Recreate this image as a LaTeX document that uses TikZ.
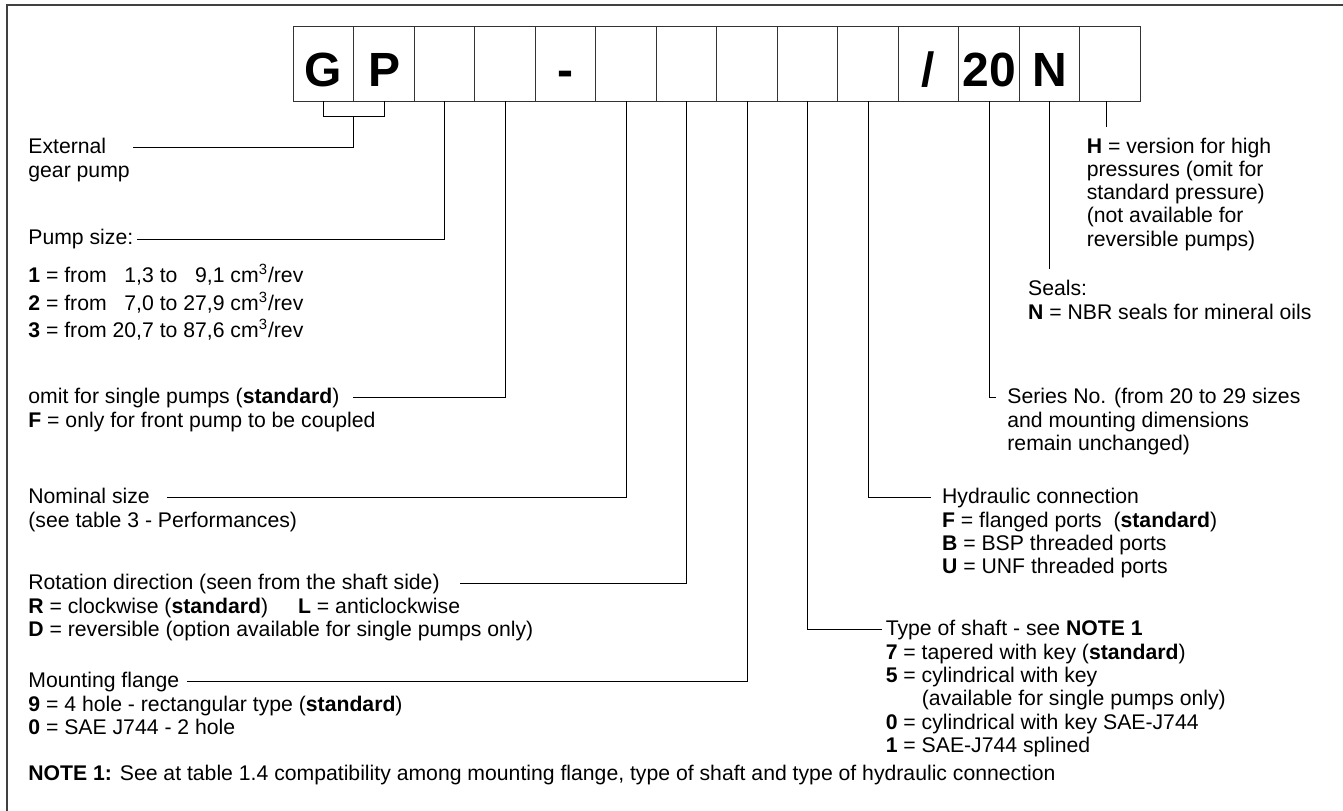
\documentclass[tikz,border=0pt]{standalone}
\usepackage{fontspec}
\setmainfont{Liberation Sans}
\usetikzlibrary{calc,positioning}
\newcommand\lblfont{\fontsize{10.6}{11.65}\selectfont}
\newcommand\keyfont{\fontsize{24}{28}\selectfont\bfseries}

\begin{document}
\begin{tikzpicture}[x=0.5pt, y=-0.5pt,
		cell/.style={draw=black!80, line width=0.5pt, outer sep=0pt, inner sep=0pt, minimum width=30.25pt, minimum height=37.15pt, text height=22.15pt, text depth=0pt, font=\keyfont},
		lbl/.style={font=\lblfont, inner sep=0pt, anchor=north west},
		lst/.style={lbl, align=left},
		lead/.style={line width=0.5pt, color=black}]
			%%%%% START %%%%%
			
			\useasboundingbox (0, 0) rectangle (1343, 810);
			\draw[line width=1.2pt, color=black!75] (7, 815) -- (7, 5) -- (1350, 5);
			
			% code boxes
			\node[cell, anchor=north west] (b1) at (293.3, 26.7) {G};
			\foreach \t [count=\j] in {P,{},{},-,{},{},{},{},{},/,20,N,{}}{
				\pgfmathtruncatemacro\i{\j+1}
				\node[cell, right=0pt of b\j] (b\i) {\t};
			}
			
			% left labels
			\node[lbl] (ext) at (28, 136.3) {\strut External};
			\node[lst, below=0pt of ext.south west, anchor=north west] (extb) {\strut gear pump};
			
			\node[lbl] (pump) at (28, 228) {\strut Pump size:};
			\node[lst, below=6pt of pump.south west, anchor=north west] (pumpl) {\strut\textbf{1} = from \hphantom{0}1,3 to \hphantom{0}9,1 cm\textsuperscript{3}/rev\\
				\strut\textbf{2} = from \hphantom{0}7,0 to 27,9 cm\textsuperscript{3}/rev\\
				\strut\textbf{3} = from 20,7 to 87,6 cm\textsuperscript{3}/rev};
			
			\node[lbl] (omit) at (28, 386.3) {\strut omit for single pumps (\textbf{standard})};
			\node[lst, below=0pt of omit.south west, anchor=north west] (omitl) {\strut\textbf{F} = only for front pump to be coupled};
			
			\node[lbl] (nom) at (28, 486.3) {\strut Nominal size};
			\node[lst, below=0pt of nom.south west, anchor=north west] (noml) {\strut(see table 3 - Performances)};
			
			\node[lbl] (rot) at (28, 572.3) {\strut Rotation direction (seen from the shaft side)};
			\node[lst, below=0pt of rot.south west, anchor=north west] (rotl) {\strut\textbf{R} = clockwise (\textbf{standard})\hspace{15pt}\textbf{L} = anticlockwise\\
				\strut\textbf{D} = reversible (option available for single pumps only)};
			
			\node[lbl] (mnt) at (28, 670.3) {\strut Mounting flange};
			\node[lst, below=0pt of mnt.south west, anchor=north west] (mntl) {\strut\textbf{9} = 4 hole - rectangular type (\textbf{standard})\\
				\strut\textbf{0} = SAE J744 - 2 hole};
			
			\node[lbl] (note) at (28, 763.3) {\strut\textbf{NOTE 1:} See at table 1.4 compatibility among mounting flange, type of shaft and type of hydraulic connection};
			
			% right labels
			\node[lst] (hver) at (1086.4, 136.3) {\strut\textbf{H} = version for high\\
				\strut pressures (omit for\\
				\strut standard pressure)\\
				\strut(not available for\\
				\strut reversible pumps)};
			
			\node[lbl] (seal) at (1027.7, 278.3) {\strut Seals:};
			\node[lst, below=0pt of seal.south west, anchor=north west] (seall) {\strut\textbf{N} = NBR seals for mineral oils};
			
			\node[lbl] (ser) at (1007, 386.3) {\strut Series No. (from 20 to 29 sizes};
			\node[lst, below=0pt of ser.south west, anchor=north west] (serl) {\strut and mounting dimensions\\
				\strut remain unchanged)};
			
			\node[lbl] (hyd) at (941.7, 486.3) {\strut Hydraulic connection};
			\node[lst, below=0pt of hyd.south west, anchor=north west] (hydl) {\strut\textbf{F} = flanged ports \ (\textbf{standard})\\
				\strut\textbf{B} = BSP threaded ports\\
				\strut\textbf{U} = UNF threaded ports};
			
			\node[lbl] (shaft) at (885.4, 618.3) {\strut Type of shaft - see \textbf{NOTE 1}};
			\node[lst, below=0pt of shaft.south west, anchor=north west] (shaftl) {\strut\textbf{7} = tapered with key (\textbf{standard})\\
				\strut\textbf{5} = cylindrical with key\\
				\strut\hphantom{\textbf{5} = }(available for single pumps only)\\
				\strut\textbf{0} = cylindrical with key SAE-J744\\
				\strut\textbf{1} = SAE-J744 splined};
			
			% leader lines
			\draw[lead] (b1.south) -- ++(0, 15.7) -| (b2.south);
			\draw[lead] ($(b1.south)!0.5!(b2.south) + (0, 15.7)$) |- ([xshift=13pt]ext.mid east);
			\draw[lead] (b3.south) |- ([xshift=1.9pt]pump.mid east);
			\draw[lead] (b4.south) |- ([xshift=6.8pt]omit.mid east);
			\draw[lead] (b6.south) |- ([xshift=8.2pt]nom.mid east);
			\draw[lead] (b7.south) |- ([xshift=9.9pt]rot.mid east);
			\draw[lead] (b8.south) |- ([xshift=3.9pt]mnt.mid east);
			\draw[lead] (b9.south) |- ([xshift=-1.9pt]shaft.mid west);
			\draw[lead] (b10.south) |- ([xshift=-5.3pt]hyd.mid west);
			\draw[lead] (b12.south) |- ([xshift=-5.7pt]ser.mid west);
			\draw[lead] (b13.south) -- ([yshift=4.6pt]b13.south |- seal.north);
			\draw[lead] ([xshift=-2pt]b14.south) -- ([xshift=-2pt, yshift=4.6pt]b14.south |- hver.north);
			
			%%%%% END %%%%%
\end{tikzpicture}
\end{document}
